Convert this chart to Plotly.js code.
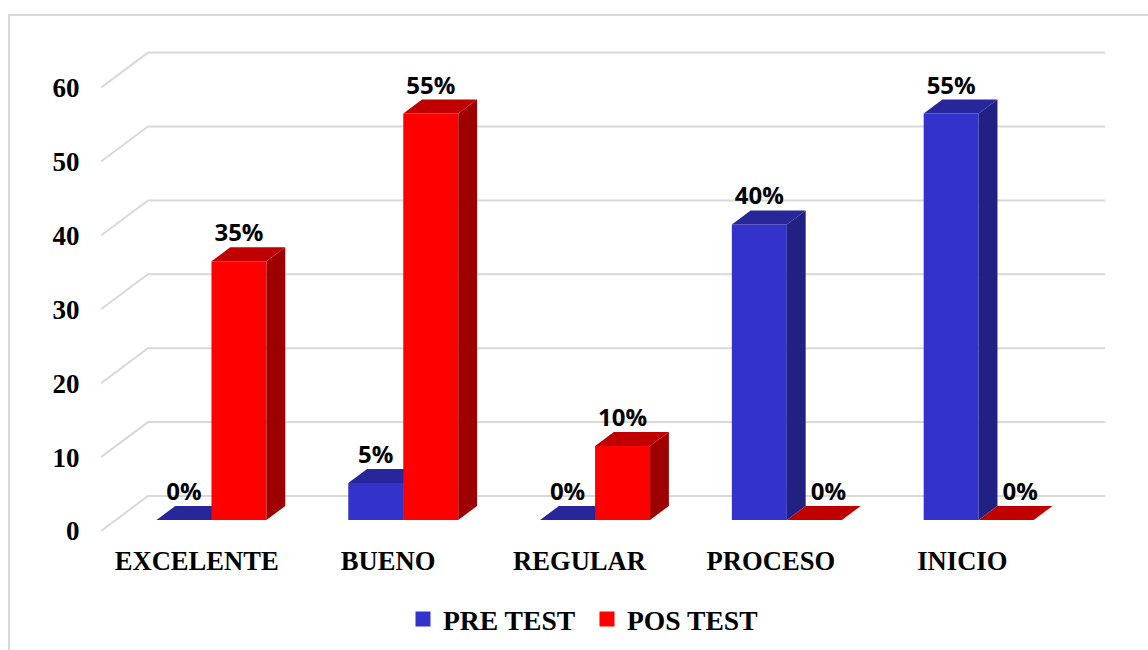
<!DOCTYPE html>
<html>
<head>
<meta charset="utf-8">
<script src="https://cdn.plot.ly/plotly-3.0.1.min.js"></script>
<style>html,body{margin:0;padding:0;background:#fff}#chart{width:1148px;height:650px}</style>
</head>
<body>
<div id="chart"></div>
<script>
const categories = ["EXCELENTE", "BUENO", "REGULAR", "PROCESO", "INICIO"];
const preTest = [0, 5, 0, 40, 55];
const posTest = [35, 55, 10, 0, 0];
const yTicks = [0, 10, 20, 30, 40, 50, 60];
const seriesNames = ["PRE TEST", "POS TEST"];

// pixel scale of the plot area
const W = 1148, H = 650;
const L = 101, R = 1108, T = 48, B = 531;
const pxPerCat = 191.4, pxPerVal = 7.39;
const barPitch = 191.8 / 191.4;
const px2x = p => p / pxPerCat, px2v = p => p / pxPerVal;

// oblique projection: depth 1 is the back wall
const wallDX = px2x(47), wallDV = px2v(35);
const frontD = 11 / 35, backD = 25 / 35;
const barW = px2x(55);
const serif = "'Liberation Serif', 'Times New Roman', serif";

const xMin = -0.5, xMax = xMin + (R - L) / pxPerCat;
const cats = categories.map((_, i) => i);

function gridTrace() {
  const x = [], y = [];
  yTicks.forEach(v => {
    x.push(xMin, xMin + wallDX, 4.5 + wallDX, null);
    y.push(v, v + wallDV, v + wallDV, null);
  });
  return {type: "scatter", mode: "lines", x, y, line: {color: "#d9d9d9", width: 2},
          hoverinfo: "skip", showlegend: false, zorder: 0};
}

function barX(i, side) { return i * barPitch + frontD * wallDX + (side === 0 ? -barW / 2 : barW / 2); }
const baseV = frontD * wallDV;
const dX = (backD - frontD) * wallDX, dV = (backD - frontD) * wallDV;

function faces(values, side) {
  const top = {x: [], y: []}, right = {x: [], y: []};
  values.forEach((v, i) => {
    const c = barX(i, side), x0 = c - barW / 2, x1 = c + barW / 2, y1 = baseV + v;
    top.x.push(x0, x1, x1 + dX, x0 + dX, x0, null);
    top.y.push(y1, y1, y1 + dV, y1 + dV, y1, null);
    right.x.push(x1, x1 + dX, x1 + dX, x1, x1, null);
    right.y.push(baseV, baseV + dV, y1 + dV, y1, baseV, null);
  });
  return {top, right};
}

function seriesTraces(values, side, name, cFront, cTop, cSide) {
  const f = faces(values, side), z = side + 1;
  const poly = (d, c) => ({type: "scatter", mode: "lines", x: d.x, y: d.y, fill: "toself", fillcolor: c,
    line: {width: 0, color: c}, hoverinfo: "skip", showlegend: false, zorder: z});
  return [
    poly(f.right, cSide),
    poly(f.top, cTop),
    {type: "bar", name, x: cats.map(i => barX(i, side)), y: values, base: baseV, width: barW,
     marker: {color: cFront, line: {width: 0}}, showlegend: false, zorder: z},
    {type: "scatter", mode: "markers", name, x: [null], y: [null],
     marker: {symbol: "square", size: 15, color: cFront}, showlegend: true, zorder: z}
  ];
}

function labelTrace(values, side) {
  const lift = dV + px2v(12);
  return {type: "scatter", mode: "text",
    x: values.map((v, i) => barX(i, side) + ((side === 1 && v === 0) ? px2x(14) : 0)),
    y: values.map(v => baseV + v + lift),
    text: values.map(v => v + "%"), textposition: "middle center",
    textfont: {family: "'Open Sans', Lato, sans-serif", size: 24, color: "#000", weight: 700},
    hoverinfo: "skip", showlegend: false, zorder: 3};
}

const data = [gridTrace()]
  .concat(seriesTraces(preTest, 0, seriesNames[0], "#3333cc", "#27279b", "#212183"))
  .concat(seriesTraces(posTest, 1, seriesNames[1], "#ff0000", "#c00000", "#9e0000"))
  .concat([labelTrace(preTest, 0), labelTrace(posTest, 1)]);

const pw = R - L, ph = B - T;
const fx = p => (p - L) / pw, fy = p => (B - p) / ph;

const layout = {
  width: W, height: H, autosize: false,
  margin: {l: L, r: W - R, t: T, b: H - B, pad: 0},
  paper_bgcolor: "#fff", plot_bgcolor: "rgba(0,0,0,0)",
  barmode: "overlay",
  xaxis: {type: "linear", range: [xMin, xMax], tickvals: cats, ticktext: categories,
    showgrid: false, zeroline: false, showline: false, ticks: "outside", ticklen: 6,
    tickcolor: "rgba(0,0,0,0)", tickfont: {family: serif, size: 26.6, color: "#000", weight: 700}},
  yaxis: {type: "linear", range: [0, ph / pxPerVal], tickvals: yTicks,
    showgrid: false, zeroline: false, showline: false, ticks: "outside", ticklen: 15,
    tickcolor: "rgba(0,0,0,0)", tickfont: {family: serif, size: 27, color: "#000", weight: 700}},
  legend: {orientation: "h", xref: "container", yref: "container", x: 403 / W, y: 1 - 619 / H,
    xanchor: "left", yanchor: "middle",
    entrywidth: 139, entrywidthmode: "pixels",
    font: {family: serif, size: 27.6, color: "#000", weight: 700}, bgcolor: "rgba(0,0,0,0)"},
  shapes: [{type: "path", xref: "paper", yref: "paper", layer: "below",
    path: `M ${fx(9)} ${fy(650)} L ${fx(9)} ${fy(15)} L ${fx(1148)} ${fy(15)}`,
    line: {color: "#d9d9d9", width: 2}}],
  showlegend: true
};
Plotly.newPlot("chart", data, layout, {displayModeBar: false, responsive: false});
</script>
</body>
</html>
